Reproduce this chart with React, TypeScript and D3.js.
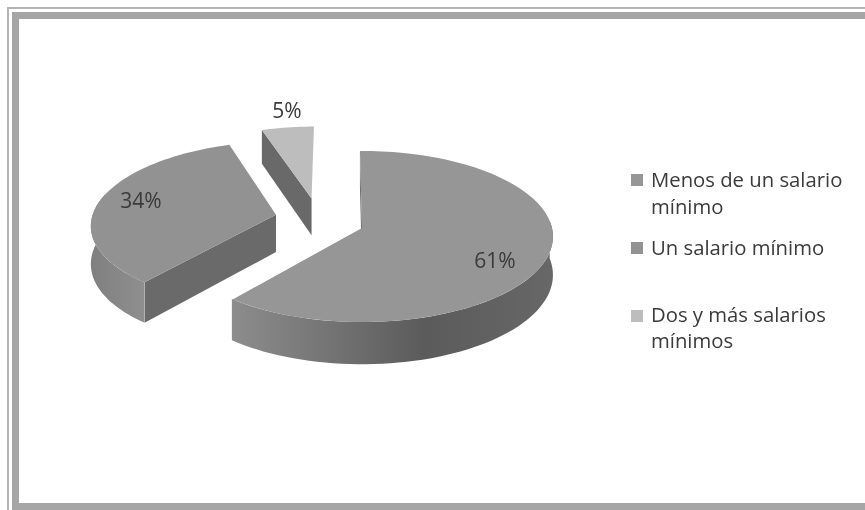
import React from "react";
import * as d3 from "d3";

const categories = ["Menos de un salario mínimo", "Un salario mínimo", "Dos y más salarios mínimos"];
const values = [61, 34, 5];
const valueLabels = ["61%", "34%", "5%"];
const legendLines = [["Menos de un salario", "mínimo"], ["Un salario mínimo"], ["Dos y más salarios", "mínimos"]];
const topColors = ["#969696", "#929292", "#bdbdbd"];
const flatColors = ["#666666", "#6a6a6a", "#696969"];

const W = 865, H = 510;
const cx = 362, cy = 228, rx = 190, ry = 84.7, k = 0.0995, depth = 38;
const explode: [number, number][] = [[0, 0], [-0.46, 0.16], [-0.275, 0.36]];
const radii = [1, 0.98, 1];
const curved: ([number, number] | null)[] = [[85, 219.2], [219, 285], null];
const labelPos: [number, number][] = [[495, 268], [141, 208], [287, 118]];
const legendY = [174, 242, 310];
const legendBase = [[187, 214], [255], [322, 348]];

const rad = (a: number) => (a * Math.PI) / 180;

function project(u: number, v: number, z: number): [number, number] {
  const w = 1 + k * v;
  return [cx + (rx * u) / w, cy - (ry * v) / w + (z * depth) / w];
}

const pieGen = d3.pie<number>().sort(null).startAngle(-0.012).endAngle(2 * Math.PI - 0.012);
const arcs = pieGen(values);
const line = d3.line();

function pt(i: number, a: number | null, z: number): [number, number] {
  const [eu, ev] = explode[i];
  if (a === null) return project(eu, ev, z);
  return project(eu + radii[i] * Math.sin(a), ev + radii[i] * Math.cos(a), z);
}

function arcPts(i: number, a0: number, a1: number, z: number) {
  return d3.range(0, 61).map((t) => pt(i, a0 + ((a1 - a0) * t) / 60, z));
}

export default function App() {
  return (
    <svg width={W} height={H} style={{ position: "fixed", left: 0, top: 0, background: "#fff" }}>
      <defs>
        <linearGradient id="g0" gradientUnits="userSpaceOnUse" x1={233} x2={551} y1={0} y2={0}>
          <stop offset="0" stopColor="#8c8c8c" />
          <stop offset="0.3" stopColor="#747474" />
          <stop offset="0.6" stopColor="#5b5b5b" />
          <stop offset="1" stopColor="#676767" />
        </linearGradient>
        <linearGradient id="g1" gradientUnits="userSpaceOnUse" x1={90} x2={145} y1={0} y2={0}>
          <stop offset="0" stopColor="#7f7f7f" />
          <stop offset="1" stopColor="#8f8f8f" />
        </linearGradient>
        <filter id="soft" x="-5%" y="-20%" width="110%" height="140%">
          <feGaussianBlur stdDeviation="0.35" />
        </filter>
      </defs>

      {/* frame */}
      <path d="M8 510V8H865" fill="none" stroke="#b4b4b4" strokeWidth={2} />
      <path d="M15.5 510V15.5H865" fill="none" stroke="#a6a6a6" strokeWidth={7} />
      <rect x={12} y={503} width={853} height={7} fill="#a6a6a6" />

      {/* slices */}
      {arcs.map((d, i) => {
        const c = curved[i];
        const wall = [pt(i, d.startAngle, 0), pt(i, null, 0), pt(i, null, 1), pt(i, d.startAngle, 1)];
        return (
          <g key={categories[i]}>
            <path d={line(wall) + "Z"} fill={flatColors[i]} />
            {c && (
              <path
                d={line([...arcPts(i, rad(c[0]), rad(c[1]), 0), ...arcPts(i, rad(c[1]), rad(c[0]), 1)]) + "Z"}
                fill={`url(#g${i})`}
              />
            )}
            <path
              d={line([pt(i, null, 0), ...arcPts(i, d.startAngle, d.endAngle, 0)]) + "Z"}
              fill={topColors[i]}
            />
          </g>
        );
      })}

      {/* value labels */}
      <g fontFamily="'Open Sans', sans-serif" fontSize={21} fill="#3a3a3a" textAnchor="middle" filter="url(#soft)">
        {valueLabels.map((t, i) => (
          <text key={t} x={labelPos[i][0]} y={labelPos[i][1]}>{t}</text>
        ))}
      </g>

      {/* legend */}
      {categories.map((c, i) => (
        <g key={c}>
          <rect x={631} y={legendY[i]} width={12} height={12} fill={topColors[i]} />
          <g filter="url(#soft)">
            {legendLines[i].map((t, j) => (
              <text key={t} x={651} y={legendBase[i][j]} fontFamily="'Open Sans', sans-serif" fontSize={20.3} fill="#3a3a3a">
                {t}
              </text>
            ))}
          </g>
        </g>
      ))}
    </svg>
  );
}
